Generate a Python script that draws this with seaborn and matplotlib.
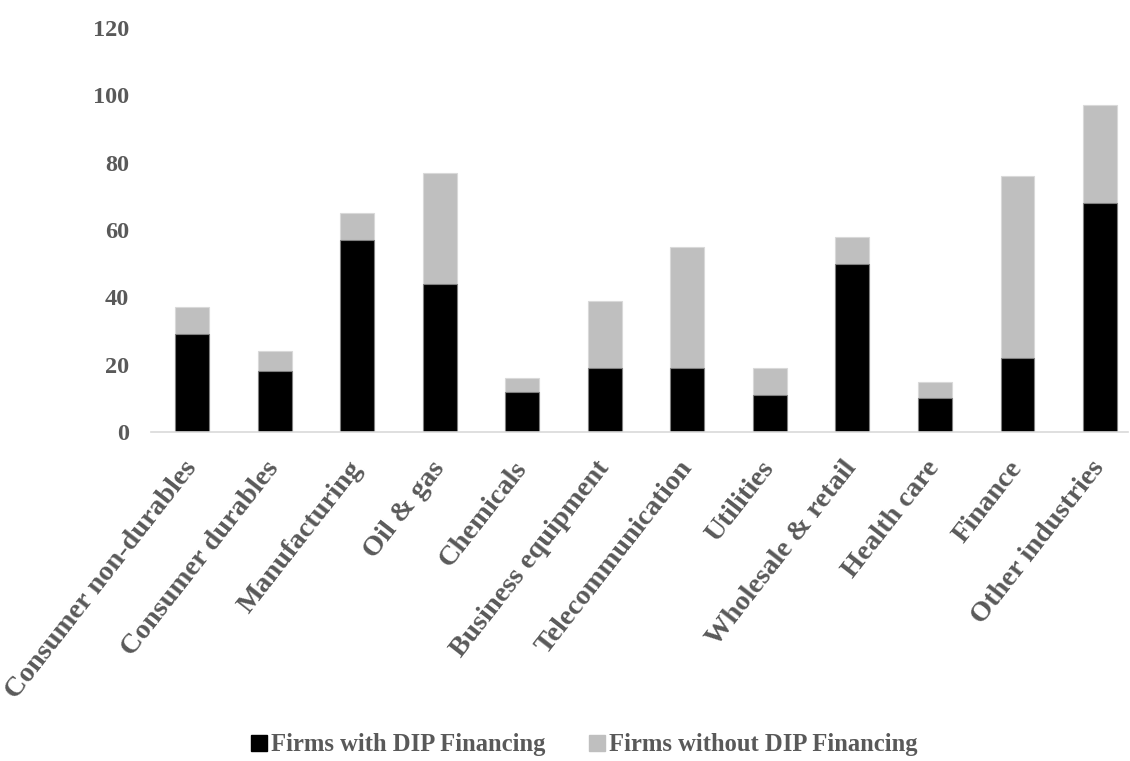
import matplotlib
matplotlib.use("Agg")
import matplotlib.pyplot as plt
import seaborn as sns
import pandas as pd
from matplotlib.patches import Patch

industries = [
    "Consumer non-durables", "Consumer durables", "Manufacturing", "Oil & gas",
    "Chemicals", "Business equipment", "Telecommunication", "Utilities",
    "Wholesale & retail", "Health care", "Finance", "Other industries",
]
with_dip = [29, 18, 57, 44, 12, 19, 19, 11, 50, 10, 22, 68]
without_dip = [8, 6, 8, 33, 4, 20, 36, 8, 8, 5, 54, 29]
y_ticks = [0, 20, 40, 60, 80, 100, 120]

df = pd.DataFrame({"industry": industries, "with": with_dip, "without": without_dip})
df["total"] = df["with"] + df["without"]

sns.set_theme(style="white")
plt.rcParams["font.family"] = ["Liberation Serif", "DejaVu Serif"]
plt.rcParams["font.weight"] = "bold"

text_gray = "#595959"
black = "#000000"
light = "#BFBFBF"

fig = plt.figure(figsize=(11.3, 7.61), dpi=100)
ax = fig.add_axes([151 / 1130, (761 - 432) / 761, (1128 - 151) / 1130, (432 - 28) / 761])

# stacked bars: full height in grey, DIP-financed part in black on top
sns.barplot(data=df, x="industry", y="total", color=light, width=0.41,
            edgecolor="#D9D9D9", linewidth=0.8, saturation=1, ax=ax)
sns.barplot(data=df, x="industry", y="with", color=black, width=0.41,
            edgecolor="#7F7F7F", linewidth=0.8, saturation=1, ax=ax)

ax.set_xlim(-0.5, 11.34)
ax.set_ylim(0, 120)
ax.set_yticks(y_ticks)
ax.set_yticklabels([str(t) for t in y_ticks], fontsize=17.5, color=text_gray, fontweight="bold")
ax.set_xlabel("")
ax.set_ylabel("")

ax.set_xticks(range(len(industries)))
ax.set_xticklabels(industries, rotation=52, ha="right", va="center",
                   rotation_mode="anchor", fontsize=20.5, color=text_gray, fontweight="bold")
ax.tick_params(axis="x", length=0, pad=23)
ax.tick_params(axis="y", length=0, pad=16)

for side in ["top", "right", "left"]:
    ax.spines[side].set_visible(False)
ax.spines["bottom"].set_color("#D9D9D9")
ax.spines["bottom"].set_linewidth(1.2)

handles = [Patch(facecolor=black, edgecolor=black),
           Patch(facecolor=light, edgecolor=light)]
fig.legend(handles, ["Firms with DIP Financing", "Firms without DIP Financing"],
           loc="center", bbox_to_anchor=(0.517, 1 - 745 / 761), ncol=2, frameon=False,
           handlelength=0.65, handleheight=0.65, handletextpad=0.15, columnspacing=1.8,
           prop={"family": "Liberation Serif", "weight": "bold", "size": 17.7},
           labelcolor=text_gray)

fig.savefig("out.png", dpi=100)
